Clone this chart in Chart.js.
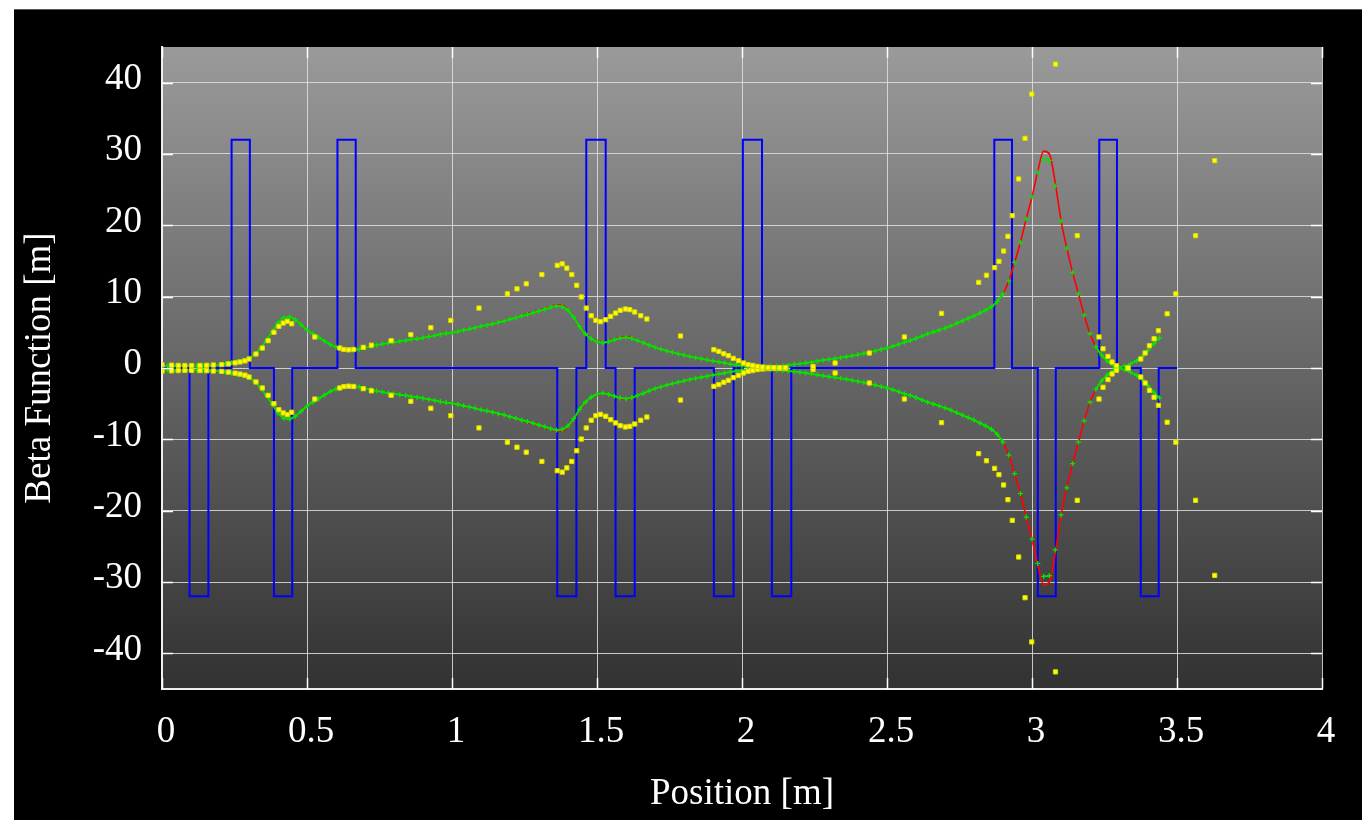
<!DOCTYPE html>
<html>
<head>
<meta charset="utf-8">
<script src="https://cdn.jsdelivr.net/npm/chart.js@4.4.1/dist/chart.umd.min.js"></script>
<style>
  html, body { margin: 0; padding: 0; background: #ffffff; width: 1362px; height: 820px; overflow: hidden; }
  #frame { position: absolute; left: 14px; top: 9px; width: 1348px; height: 810px; background: #000; border-top: 1px solid #5a5a5a; }
  #c { display: block; }
</style>
</head>
<body>
<div id="frame"><canvas id="c" width="1348" height="810"></canvas></div>
<script>
// ---- Data ----
const xTicks = [0, 0.5, 1, 1.5, 2, 2.5, 3, 3.5, 4];
const yTicks = [-40, -30, -20, -10, 0, 10, 20, 30, 40];

// Magnet layout (blue): focusing (+) and defocusing (-) elements
const qfStart = [0.240, 0.605, 1.463, 2.003, 2.870, 3.232];
const qfEnd   = [0.303, 0.668, 1.530, 2.069, 2.931, 3.293];
const qdStart = [0.095, 0.386, 1.363, 1.564, 1.903, 2.103, 3.020, 3.375];
const qdEnd   = [0.160, 0.449, 1.429, 1.630, 1.971, 2.170, 3.082, 3.437];
const magnetHeight = 32;
const latticeEnd = 3.5;

// Tracked beta (green crosses) and model beta (red line)
const trackX = [0,0.02,0.04,0.06,0.08,0.1,0.12,0.14,0.16,0.18,0.2,0.22,0.24,0.26,0.28,0.3,0.32,0.34,0.36,0.38,
0.4,0.42,0.44,0.46,0.48,0.5,0.52,0.54,0.56,0.58,0.6,0.62,0.64,0.66,0.68,0.7,0.72,0.74,0.76,0.78,
0.8,0.82,0.84,0.86,0.88,0.9,0.92,0.94,0.96,0.98,1,1.02,1.04,1.06,1.08,1.1,1.12,1.14,1.16,1.18,
1.2,1.22,1.24,1.26,1.28,1.3,1.32,1.34,1.36,1.38,1.4,1.42,1.44,1.46,1.48,1.5,1.52,1.54,1.56,1.58,
1.6,1.62,1.64,1.66,1.68,1.7,1.72,1.74,1.76,1.78,1.8,1.82,1.84,1.86,1.88,1.9,1.92,1.94,1.96,1.98,
2,2.02,2.04,2.06,2.08,2.1,2.12,2.14,2.16,2.18,2.2,2.22,2.24,2.26,2.28,2.3,2.32,2.34,2.36,2.38,
2.4,2.42,2.44,2.46,2.48,2.5,2.52,2.54,2.56,2.58,2.6,2.62,2.64,2.66,2.68,2.7,2.72,2.74,2.76,2.78,
2.8,2.82,2.84,2.86,2.88,2.9,2.92,2.94,2.96,2.98,3,3.02,3.04,3.06,3.08,3.1,3.12,3.14,3.16,3.18,
3.2,3.22,3.24,3.26,3.28,3.3,3.32,3.34,3.36,3.38,3.4,3.42,3.44];
const betaTracked = [0.33,0.33,0.32,0.32,0.32,0.32,0.33,0.34,0.36,0.40,0.46,0.58,0.75,0.92,1.12,1.35,1.9,2.8,3.9,5.1,
6.3,7.05,7.15,6.75,6.05,5.35,4.8,4.3,3.8,3.3,2.95,2.65,2.5,2.5,2.65,2.85,3.0,3.2,3.35,3.5,
3.6,3.75,3.85,4.0,4.1,4.25,4.4,4.55,4.7,4.85,4.95,5.1,5.3,5.45,5.65,5.85,6.0,6.2,6.4,6.6,
6.85,7.05,7.3,7.5,7.75,8.0,8.25,8.5,8.7,8.6,8.1,7.1,5.8,4.8,4.1,3.7,3.55,3.7,3.95,4.2,
4.3,4.15,3.85,3.55,3.2,2.9,2.65,2.4,2.2,2.0,1.8,1.6,1.45,1.3,1.15,1.0,0.85,0.7,0.55,0.45,
0.35,0.28,0.24,0.22,0.22,0.24,0.28,0.33,0.4,0.5,0.6,0.7,0.82,0.95,1.1,1.2,1.32,1.45,1.58,1.72,
1.88,2.05,2.2,2.4,2.6,2.8,3.05,3.3,3.6,3.85,4.15,4.45,4.8,5.05,5.3,5.6,5.9,6.25,6.6,6.95,
7.3,7.7,8.1,8.6,9.3,10.4,12.2,14.8,17.6,20.9,24.0,27.4,29.2,29.1,25.5,20.6,16.8,13.4,10.4,7.4,
4.8,3.0,1.8,0.95,0.4,0.1,0.25,0.6,1.0,1.6,2.5,3.4,4.2];
const betaModel = [0.33,0.33,0.32,0.32,0.32,0.32,0.33,0.34,0.36,0.40,0.46,0.58,0.75,0.92,1.12,1.35,1.9,2.8,3.9,5.1,
6.3,7.05,7.15,6.75,6.05,5.35,4.8,4.3,3.8,3.3,2.95,2.65,2.5,2.5,2.65,2.85,3.0,3.2,3.35,3.5,
3.6,3.75,3.85,4.0,4.1,4.25,4.4,4.55,4.7,4.85,4.95,5.1,5.3,5.45,5.65,5.85,6.0,6.2,6.45,6.65,
6.9,7.1,7.35,7.6,7.85,8.1,8.35,8.6,8.85,8.8,8.2,7.2,5.85,4.85,4.15,3.75,3.6,3.75,4.0,4.3,
4.4,4.25,3.9,3.6,3.22,2.9,2.65,2.4,2.2,2.0,1.8,1.6,1.45,1.3,1.15,1.0,0.85,0.7,0.55,0.45,
0.35,0.28,0.24,0.22,0.22,0.24,0.28,0.33,0.4,0.5,0.6,0.7,0.82,0.95,1.1,1.2,1.32,1.45,1.58,1.72,
1.88,2.05,2.2,2.4,2.6,2.8,3.05,3.3,3.6,3.85,4.15,4.45,4.8,5.05,5.3,5.6,5.9,6.25,6.6,6.95,
7.3,7.7,8.1,8.6,9.3,10.4,12.2,14.8,17.6,20.9,24.0,27.6,30.4,30.0,26.0,20.7,16.8,13.4,10.4,7.4,
4.8,3.0,1.8,0.95,0.4,0.1,0.25,0.6,1.0,1.6,2.5,3.4,4.2];

// Measured beta (yellow squares)
const measX = [0.0,0.033,0.056,0.079,0.102,0.131,0.154,0.177,0.206,0.229,0.252,0.269,0.286,0.300,0.324,0.346,0.366,0.386,0.403,0.418,
0.432,0.447,0.527,0.613,0.627,0.644,0.661,0.694,0.722,0.790,0.858,0.927,0.996,1.093,1.191,1.224,1.256,1.310,1.363,1.380,
1.396,1.413,1.430,1.446,1.463,1.480,1.496,1.512,1.530,1.547,1.564,1.580,1.598,1.613,1.630,1.651,1.672,1.788,1.903,1.920,
1.937,1.953,1.970,1.988,2.005,2.021,2.037,2.053,2.070,2.090,2.110,2.130,2.150,2.245,2.321,2.439,2.560,2.688,2.816,2.843,
2.871,2.886,2.902,2.917,2.932,2.954,2.976,2.999,3.081,3.156,3.231,3.245,3.262,3.276,3.291,3.331,3.375,3.390,3.405,3.421,
3.436,3.466,3.496,3.564,3.630];
const measBeta = [0.45,0.4,0.37,0.35,0.35,0.36,0.38,0.42,0.48,0.58,0.72,0.85,1.0,1.26,1.96,2.8,3.83,5.0,5.84,6.3,
6.55,6.2,4.35,2.8,2.6,2.55,2.6,2.9,3.2,3.83,4.67,5.65,6.68,8.4,10.4,11.1,11.8,13.1,14.4,14.6,
14.0,13.1,11.6,9.96,8.4,7.33,6.68,6.5,6.77,7.24,7.7,8.08,8.27,8.18,7.85,7.33,6.87,4.49,2.57,2.33,
2.0,1.73,1.35,1.02,0.7,0.46,0.36,0.22,0.14,0.08,0.06,0.06,0.06,0.23,0.7,2.1,4.35,7.66,12.0,13.0,
14.07,14.95,16.4,18.46,21.36,26.5,32.2,38.4,42.6,18.55,4.35,2.7,1.63,0.84,0.32,0.0,1.26,2.1,3.13,4.1,
5.23,7.6,10.4,18.55,29.07];

// ---- Build library data from the arrays ----
const magnets = [];
qfStart.forEach((s, i) => magnets.push({s, e: qfEnd[i], h: magnetHeight}));
qdStart.forEach((s, i) => magnets.push({s, e: qdEnd[i], h: -magnetHeight}));
magnets.sort((a, b) => a.s - b.s);
const magnetPts = [{x: 0, y: 0}];
magnets.forEach(m => { magnetPts.push({x: m.s, y: 0}, {x: m.s, y: m.h}, {x: m.e, y: m.h}, {x: m.e, y: 0}); });
magnetPts.push({x: latticeEnd, y: 0});

const pts = (xs, ys, sign) => xs.map((x, i) => ({x, y: sign * ys[i]}));

const FONT = 'Liberation Serif';
const GREEN = '#00e800';

const plotFrame = {
  id: 'plotFrame',
  beforeDraw(chart) {
    const {ctx, chartArea: a} = chart;
    const g = ctx.createLinearGradient(0, a.top, 0, a.bottom);
    g.addColorStop(0, 'rgb(154,154,154)');
    g.addColorStop(1, 'rgb(50,50,50)');
    ctx.save();
    ctx.fillStyle = g;
    ctx.fillRect(a.left, a.top, a.right - a.left, a.bottom - a.top);
    ctx.restore();
  },
  afterDraw(chart) {
    const {ctx, chartArea: a, scales} = chart;
    ctx.save();
    ctx.strokeStyle = '#ffffff';
    ctx.lineWidth = 1.5;
    ctx.beginPath();
    yTicks.forEach(v => {
      const p = Math.round(scales.y.getPixelForValue(v)) + 0.5;
      ctx.moveTo(a.left, p); ctx.lineTo(a.left + 11, p);
      ctx.moveTo(a.right - 11, p); ctx.lineTo(a.right, p);
    });
    xTicks.forEach(v => {
      const p = Math.round(scales.x.getPixelForValue(v)) + 0.5;
      ctx.moveTo(p, a.top); ctx.lineTo(p, a.top + 11);
      ctx.moveTo(p, a.bottom - 11); ctx.lineTo(p, a.bottom);
    });
    ctx.stroke();
    ctx.restore();
  }
};

// green band is continuous where markers overlap (flat parts), separate crosses where steep
const greenSegment = {
  borderColor: c => {
    const dx = Math.abs(c.p1.x - c.p0.x), dy = Math.abs(c.p1.y - c.p0.y);
    return dy > 1.6 * dx ? 'rgba(0,0,0,0)' : GREEN;
  }
};

const greenStyle = {type: 'scatter', showLine: true, borderWidth: 1.8, cubicInterpolationMode: 'monotone',
  pointStyle: 'cross', pointRadius: 2.5, pointBorderWidth: 1.3, segment: greenSegment,
  borderColor: GREEN, backgroundColor: GREEN, pointBorderColor: GREEN, pointHoverRadius: 0, order: 2};
const redStyle = {type: 'line', showLine: true, pointRadius: 0, borderColor: '#ff0000', borderWidth: 1.6,
  cubicInterpolationMode: 'monotone', fill: false, order: 3};
const yellowStyle = {type: 'scatter', showLine: false, pointStyle: 'rect', pointRadius: 3, pointBorderWidth: 1,
  borderColor: '#d8d800', backgroundColor: '#ffff00', order: 1};

new Chart(document.getElementById('c'), {
  type: 'scatter',
  data: {
    datasets: [
      {label: 'Magnets', type: 'line', data: magnetPts, borderColor: '#0000ff', borderWidth: 2, pointRadius: 0, tension: 0, fill: false, order: 4},
      Object.assign({label: 'Model +', data: pts(trackX, betaModel, 1)}, redStyle),
      Object.assign({label: 'Model -', data: pts(trackX, betaModel, -1)}, redStyle),
      Object.assign({label: 'Tracked +', data: pts(trackX, betaTracked, 1)}, greenStyle),
      Object.assign({label: 'Tracked -', data: pts(trackX, betaTracked, -1)}, greenStyle),
      Object.assign({label: 'Measured +', data: pts(measX, measBeta, 1)}, yellowStyle),
      Object.assign({label: 'Measured -', data: pts(measX, measBeta, -1)}, yellowStyle)
    ]
  },
  options: {
    responsive: false,
    animation: false,
    devicePixelRatio: 1,
    layout: {padding: {left: 0, top: 37, right: 40, bottom: 0}},
    plugins: {legend: {display: false}, tooltip: {enabled: false}},
    scales: {
      x: {
        type: 'linear', position: 'bottom', min: 0, max: 4,
        afterBuildTicks: s => { s.ticks = xTicks.map(v => ({value: v})); },
        ticks: {color: '#ffffff', font: {family: FONT, size: 37}, padding: 21, labelOffset: 4, maxRotation: 0, autoSkip: false,
          callback: v => String(v)},
        grid: {color: 'rgba(225,225,225,0.85)', lineWidth: 1, drawTicks: false},
        border: {color: '#eeeeee', width: 2},
        title: {display: true, text: 'Position [m]', color: '#ffffff', font: {family: FONT, size: 37}, padding: {top: 0, bottom: 4}},
        afterFit: s => { s.height = 131; s.paddingLeft = 0; s.paddingRight = 0; }
      },
      y: {
        type: 'linear', position: 'left', min: -45, max: 45, z: 1,
        afterBuildTicks: s => { s.ticks = yTicks.map(v => ({value: v})); },
        ticks: {color: '#ffffff', font: {family: FONT, size: 37}, padding: 20, labelOffset: -3.5, autoSkip: false,
          callback: v => String(v)},
        grid: {color: 'rgba(225,225,225,0.85)', lineWidth: 1, drawTicks: false},
        border: {color: '#eeeeee', width: 2},
        title: {display: true, text: 'Beta Function [m]', color: '#ffffff', font: {family: FONT, size: 37}, padding: {top: 4, bottom: 0}},
        afterFit: s => { s.width = 148; s.paddingTop = 0; s.paddingBottom = 0; }
      }
    }
  },
  plugins: [plotFrame]
});
</script>
</body>
</html>
